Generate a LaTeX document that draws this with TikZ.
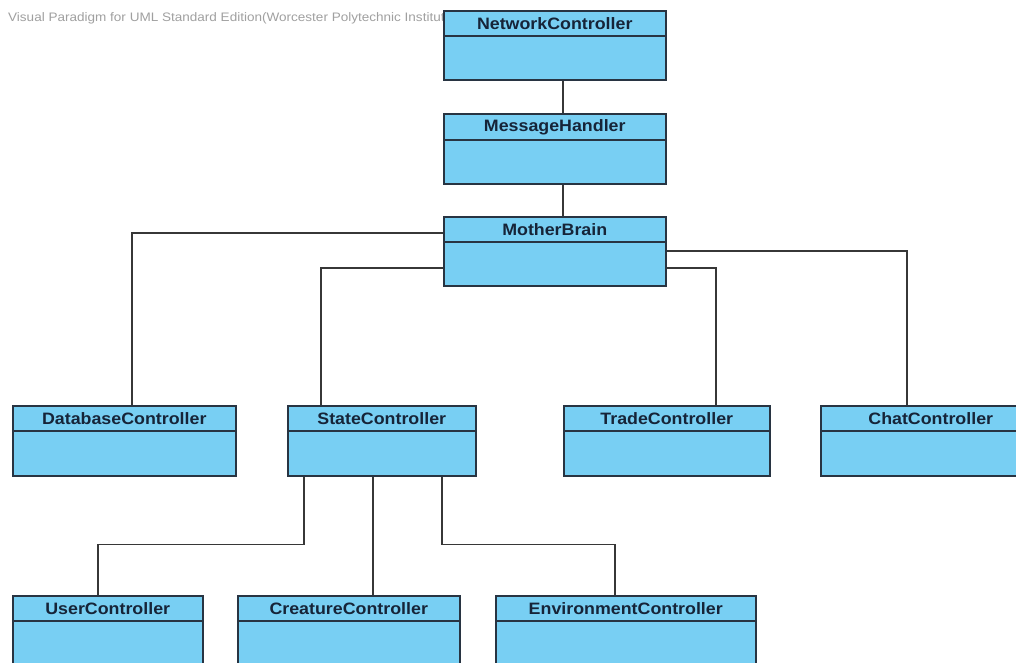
\documentclass[tikz,border=0pt]{standalone}
\usepackage{fontspec}
\setmainfont{Liberation Sans}
\newfontfamily\titlefont[FakeStretch=1.08]{Liberation Sans}
\newfontfamily\markfont[FakeStretch=1.1]{Liberation Sans}
\usetikzlibrary{calc}
\definecolor{classfill}{RGB}{120,207,243}
\definecolor{classline}{RGB}{40,52,66}
\definecolor{classtext}{RGB}{22,36,56}
\definecolor{wirecol}{RGB}{55,55,55}
\definecolor{markcol}{RGB}{160,160,160}
\tikzset{
  classbox/.style={draw=classline, fill=classfill, line width=1.5pt, anchor=north west, inner sep=0pt},
  classtitle/.style={font=\titlefont\bfseries\fontsize{16.5}{18}\selectfont, text=classtext, inner sep=0pt},
  divider/.style={draw=classline, line width=1.5pt},
  wire/.style={draw=wirecol, line width=1.3pt},
}
% a UML class: name, left, top, width, height, header height, title
\newcommand{\umlclass}[7]{%
  \node[classbox, minimum width=#4, minimum height=#5] (#1) at (#2,#3) {};
  \node[classtitle] (#1-t) at ($(#1.north)+(0,#6/2+1)$) {#7};
  \draw[divider] ($(#1.north west)+(0,#6)$) -- ($(#1.north east)+(0,#6)$);
}
\begin{document}
\begin{tikzpicture}[x=1pt,y=-1pt]
\useasboundingbox (0,0) rectangle (1016,662);
\clip (0,0) rectangle (1016,662);
\fill[white] (0,0) rectangle (1016,662);

\node[anchor=west, text=markcol, font=\markfont\fontsize{12.3}{14}\selectfont, inner sep=0pt] (mark) at (8,18)
  {Visual Paradigm for UML Standard Edition(Worcester Polytechnic Institute)};

\umlclass{nc}{443}{10}{222}{69}{26}{NetworkController}
\umlclass{mh}{443}{113}{222}{70}{27}{MessageHandler}
\umlclass{mb}{443}{216}{222}{69}{26}{MotherBrain}
\umlclass{db}{12}{405}{223}{70}{26}{DatabaseController}
\umlclass{sc}{287}{405}{188}{70}{26}{StateController}
\umlclass{tc}{563}{405}{206}{70}{26}{TradeController}
\umlclass{cc}{820}{405}{220}{70}{26}{ChatController}
\umlclass{uc}{12}{595}{190}{90}{26}{UserController}
\umlclass{cr}{237}{595}{222}{90}{26}{CreatureController}
\umlclass{ec}{495}{595}{260}{90}{26}{EnvironmentController}

% vertical chain at the top
\draw[wire] ($(nc.south west)+(120,0)$) -- ($(mh.north west)+(120,0)$);
\draw[wire] ($(mh.south west)+(120,0)$) -- ($(mb.north west)+(120,0)$);

% MotherBrain to its four controllers
\draw[wire] ($(mb.north west)+(0,17)$) -| ($(db.north west)+(120,0)$);
\draw[wire] ($(mb.north west)+(0,52)$) -| ($(sc.north west)+(34,0)$);
\draw[wire] ($(mb.north east)+(0,52)$) -| ($(tc.north west)+(153,0)$);
\draw[wire] ($(mb.north east)+(0,35)$) -| ($(cc.north west)+(87,0)$);

% StateController to its three sub-controllers
\draw[wire] ($(sc.south west)+(17,0)$) |- ($(sc.south west)+(17,68)$) -| ($(uc.north west)+(86,0)$);
\draw[wire] ($(sc.south west)+(86,0)$) -- ($(cr.north west)+(136,0)$);
\draw[wire] ($(sc.south west)+(155,0)$) |- ($(sc.south west)+(155,68)$) -| ($(ec.north west)+(120,0)$);
\end{tikzpicture}
\end{document}
